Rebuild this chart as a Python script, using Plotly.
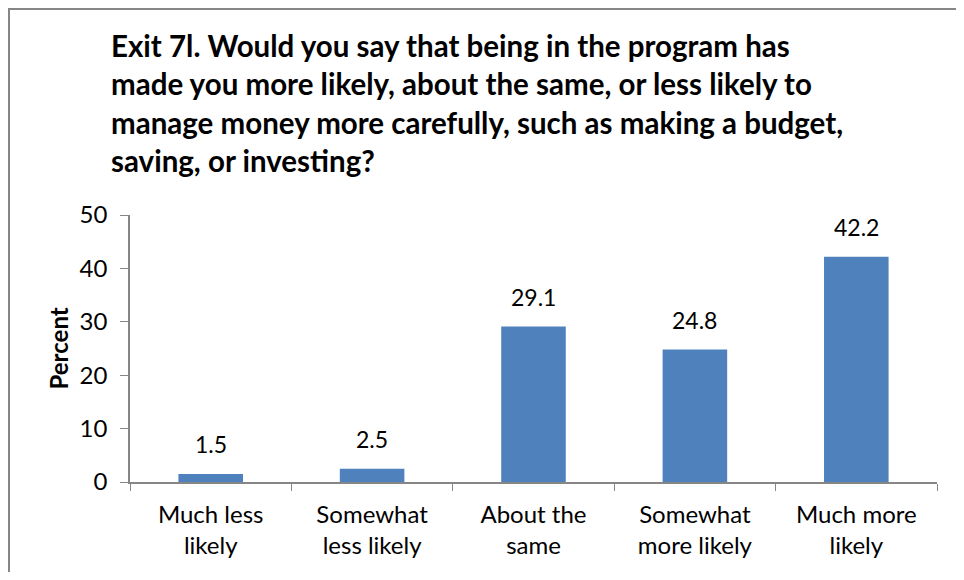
import plotly.graph_objects as go

categories = ["Much less<br>likely", "Somewhat<br>less likely", "About the<br>same",
              "Somewhat<br>more likely", "Much more<br>likely"]
percent = [1.5, 2.5, 29.1, 24.8, 42.2]
value_labels = ["1.5", "2.5", "29.1", "24.8", "42.2"]
y_ticks = [0, 10, 20, 30, 40, 50]

title_text = ("Exit 7l. Would you say that being in the program has<br>"
              "made you more likely, about the same, or less likely to<br>"
              "manage money more carefully, such as making a budget,<br>"
              "saving, or investing?")

font_family = "Lato, Open Sans, sans-serif"
axis_gray = "#868686"

# page has an 8px body margin, so the figure is a bit smaller than the window
W, H = 948, 564
L, R, T, B = 122, 19, 207, 90
plot_w = W - L - R
plot_h = H - T - B


def px_x(x):
    return (x - L) / plot_w


def px_y(y):
    return (H - B - y) / plot_h


fig = go.Figure(
    data=[go.Bar(
        x=categories,
        y=percent,
        marker=dict(color="#4F81BD", line=dict(width=0)),
        hoverinfo="x+y",
    )]
)

# value labels above bars
annotations = []
for cat, val, lab in zip(categories, percent, value_labels):
    annotations.append(dict(
        x=cat, y=val, text=lab,
        xref="x", yref="y",
        xanchor="center", yanchor="bottom",
        yshift=14, showarrow=False,
        font=dict(size=23, color="black"),
    ))

annotations.append(dict(
    text="<b>Percent</b>",
    textangle=-90,
    xref="paper", yref="paper",
    x=px_x(50), y=0.5,
    xanchor="center", yanchor="middle",
    showarrow=False,
    font=dict(size=24, color="black"),
))

annotations.append(dict(
    text="<b>" + title_text + "</b>",
    xref="paper", yref="paper",
    x=px_x(101), y=px_y(18),
    xanchor="left", yanchor="top",
    align="left",
    showarrow=False,
    font=dict(size=29.5, color="black"),
))

fig.update_layout(
    width=W,
    height=H,
    margin=dict(l=L, r=R, t=T, b=B, pad=0),
    paper_bgcolor="white",
    plot_bgcolor="white",
    bargap=0.6,
    showlegend=False,
    font=dict(family=font_family, color="black"),
    xaxis=dict(
        type="category",
        tickson="boundaries",
        ticks="outside",
        ticklen=7,
        tickcolor=axis_gray,
        showline=True,
        linecolor=axis_gray,
        linewidth=1.5,
        showgrid=False,
        ticklabelstandoff=10,
        tickfont=dict(size=24, color="black"),
    ),
    yaxis=dict(
        range=[0, 50],
        tickvals=y_ticks,
        ticks="outside",
        ticklen=8,
        tickcolor=axis_gray,
        showline=True,
        linecolor=axis_gray,
        linewidth=1.5,
        showgrid=False,
        zeroline=False,
        ticklabelstandoff=8,
        tickfont=dict(size=24, color="black"),
    ),
    annotations=annotations,
    shapes=[dict(
        type="rect",
        xref="paper", yref="paper",
        x0=px_x(1), x1=px_x(W + 20),
        y0=px_y(H + 20), y1=px_y(1),
        line=dict(color=axis_gray, width=2),
        fillcolor="rgba(0,0,0,0)",
        layer="below",
    )],
)

fig.write_html("out.html")
